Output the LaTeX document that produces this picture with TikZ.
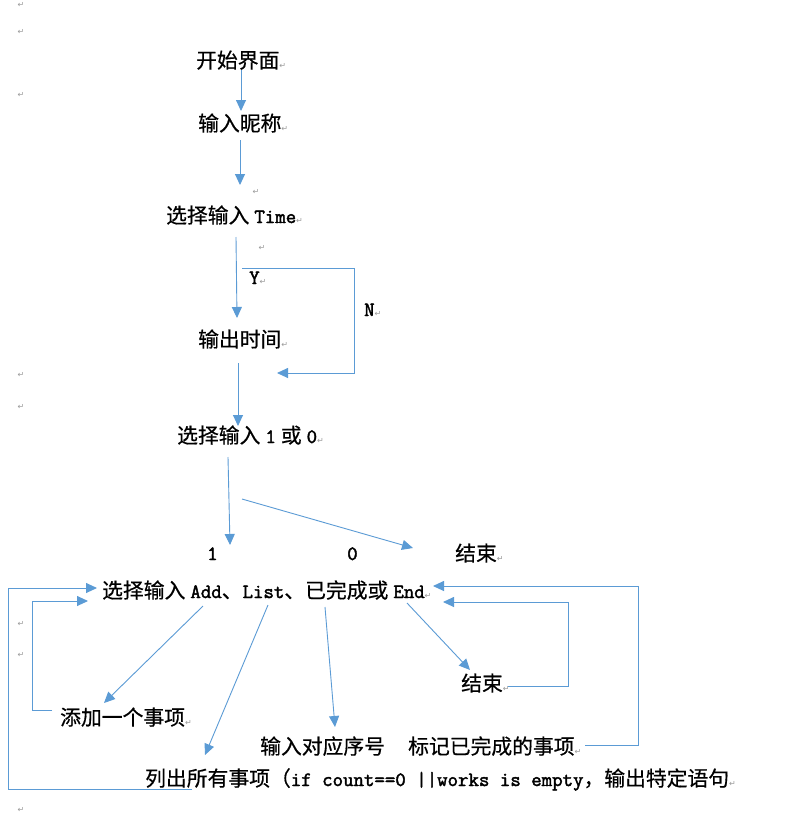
\documentclass[tikz,border=0pt]{standalone}
\usepackage{fontspec}
\usetikzlibrary{arrows.meta}
\setmainfont{Noto Sans CJK SC}
\newfontfamily\cjkfont[FakeBold=0.5]{Noto Sans CJK SC}
\newfontfamily\latfont[FakeBold=2]{Latin Modern Mono}
\newfontfamily\dejavufont{DejaVu Sans}
\definecolor{wblue}{HTML}{5B9BD5}
\definecolor{pmgray}{HTML}{9A9A9A}
\newcommand\pmk{{\dejavufont\fontsize{8}{8}\selectfont\color{pmgray}↵}}
\newcommand\lt[1]{{\latfont\fontsize{20.3}{20}\selectfont #1}}
\newcommand\hs{\hspace{5pt}}
\begin{document}
\begin{tikzpicture}[x=1pt,y=-1pt,
  txt/.style={anchor=base west,inner sep=0pt,font=\cjkfont\fontsize{20.8}{24}\selectfont},
  pm/.style={anchor=center,inner sep=0pt,font=\dejavufont\fontsize{8}{8}\selectfont,text=pmgray},
  arr/.style={draw=wblue,line width=0.9pt,-{Triangle[length=11pt,width=10pt]}}]
\useasboundingbox[fill=white] (0,0) rectangle (787,819);

% texts
\node[txt] (start) at (196,68) {开始界面\pmk};
\node[txt] (nick) at (198,131) {输入昵称\pmk};
\node[txt] (time) at (166,223) {选择输入\hs\lt{Time}\pmk};
\node[txt] (ylab) at (249,284) {\lt{Y}\pmk};
\node[txt] (nlab) at (364,316) {\lt{N}\pmk};
\node[txt] (out) at (198,347) {输出时间\pmk};
\node[txt] (sel) at (177,443) {选择输入\hs\lt{1}\hs 或\hs\lt{0}\pmk};
\node[txt] (one) at (207,560) {\lt{1}};
\node[txt] (zero) at (347,560) {\lt{0}};
\node[txt] (endA) at (455,561) {结束\pmk};
\node[txt] (menu) at (102,598) {选择输入\hs\lt{Add}、\lt{List}、已完成或\hs\lt{End}\pmk};
\node[txt] (endB) at (461,691) {结束\pmk};
\node[txt] (add) at (60,725) {添加一个事项\pmk};
\node[txt] (num) at (260,754) {输入对应序号};
\node[txt] (mark) at (408,754) {标记已完成的事项\pmk};
\node[txt] (list) at (145,786) {列出所有事项（\lt{if count==0 ||works is empty}，输出特定语句\pmk};

% paragraph marks
\node[pm] (p1) at (21,5) {↵};
\node[pm] (p2) at (21,32) {↵};
\node[pm] (p3) at (21,95) {↵};
\node[pm] (p4) at (21,375) {↵};
\node[pm] (p5) at (21,407) {↵};
\node[pm] (p6) at (21,624) {↵};
\node[pm] (p7) at (21,655) {↵};
\node[pm] (p8) at (21,810) {↵};
\node[pm] (p9) at (256,192) {↵};
\node[pm] (p10) at (262,248) {↵};

% coordinates
\coordinate (a1s) at (241,70);  \coordinate (a1e) at (241,111);
\coordinate (a2s) at (240,140); \coordinate (a2e) at (240,185);
\coordinate (a3s) at (236,237); \coordinate (a3e) at (237,318);
\coordinate (a5s) at (238,363); \coordinate (a5e) at (238,426);
\coordinate (a6s) at (228,457); \coordinate (a6e) at (230,545);
\coordinate (a7s) at (242,499); \coordinate (a7e) at (413,548);
\coordinate (l1a) at (242,268); \coordinate (l1b) at (354,268);
\coordinate (l1c) at (354,373); \coordinate (l1d) at (277,373);
\coordinate (f1a) at (192,789); \coordinate (f1b) at (8,789);
\coordinate (f1c) at (8,588);   \coordinate (f1d) at (97,588);
\coordinate (f2a) at (52,710);  \coordinate (f2b) at (32,710);
\coordinate (f2c) at (32,601);  \coordinate (f2d) at (88,601);
\coordinate (f3a) at (508,686); \coordinate (f3b) at (568,686);
\coordinate (f3c) at (568,602); \coordinate (f3d) at (443,602);
\coordinate (f4a) at (585,745); \coordinate (f4b) at (638,745);
\coordinate (f4c) at (638,586); \coordinate (f4d) at (433,586);
\coordinate (d1s) at (203,606); \coordinate (d1e) at (104,703);
\coordinate (d2s) at (268,605); \coordinate (d2e) at (205,755);
\coordinate (d3s) at (325,607); \coordinate (d3e) at (335,727);
\coordinate (d4s) at (407,603); \coordinate (d4e) at (470,670);

% connectors
\draw[arr] (a1s) -- (a1e);
\draw[arr] (a2s) -- (a2e);
\draw[arr] (a3s) -- (a3e);
\draw[arr] (a5s) -- (a5e);
\draw[arr] (a6s) -- (a6e);
\draw[arr] (a7s) -- (a7e);
\draw[arr] (l1a) -- (l1b) -- (l1c) -- (l1d);
\draw[arr] (f1a) -- (f1b) -- (f1c) -- (f1d);
\draw[arr] (f2a) -- (f2b) -- (f2c) -- (f2d);
\draw[arr] (f3a) -- (f3b) -- (f3c) -- (f3d);
\draw[arr] (f4a) -- (f4b) -- (f4c) -- (f4d);
\draw[arr] (d1s) -- (d1e);
\draw[arr] (d2s) -- (d2e);
\draw[arr] (d3s) -- (d3e);
\draw[arr] (d4s) -- (d4e);
\end{tikzpicture}
\end{document}
